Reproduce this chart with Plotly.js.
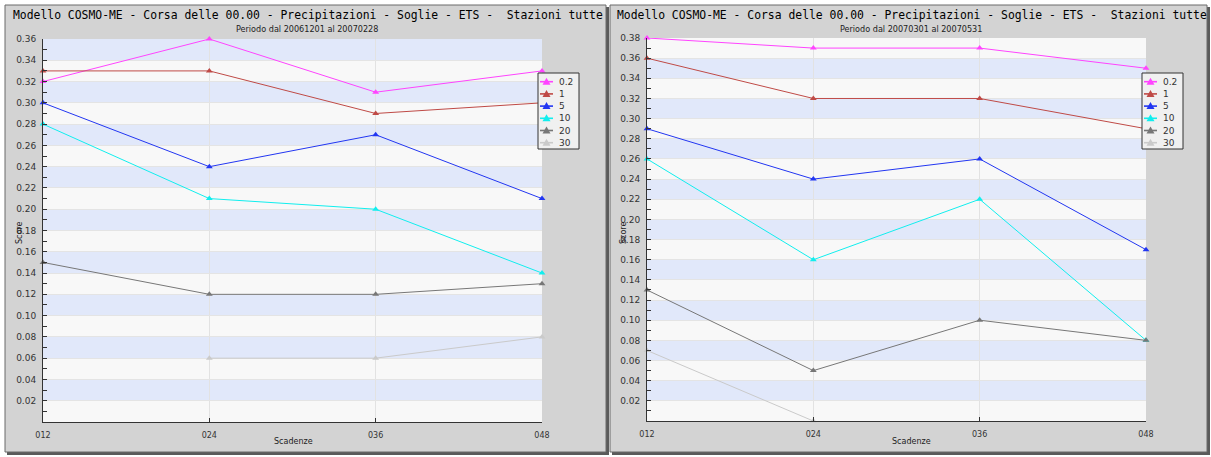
<!DOCTYPE html>
<html>
<head>
<meta charset="utf-8">
<script src="https://cdn.plot.ly/plotly-3.0.1.min.js"></script>
<style>html,body{margin:0;padding:0;background:#fff;}#chart{width:1211px;height:457px;}</style>
</head>
<body>
<div id="chart"></div>
<script>
// ---- data ----
const categories = ['012', '024', '036', '048'];
const thresholds = ['0.2', '1', '5', '10', '20', '30'];
const titleText = 'Modello COSMO-ME - Corsa delle 00.00 - Precipitazioni - Soglie - ETS -  Stazioni tutte';
const leftPeriod = 'Periodo dal 20061201 al 20070228';
const rightPeriod = 'Periodo dal 20070301 al 20070531';

// left panel (winter)
const left_02 = [0.32, 0.36, 0.31, 0.33];
const left_1  = [0.33, 0.33, 0.29, 0.30];
const left_5  = [0.30, 0.24, 0.27, 0.21];
const left_10 = [0.28, 0.21, 0.20, 0.14];
const left_20 = [0.15, 0.12, 0.12, 0.13];
const left_30 = [null, 0.06, 0.06, 0.08];

// right panel (spring)
const right_02 = [0.38, 0.37, 0.37, 0.35];
const right_1  = [0.36, 0.32, 0.32, 0.29];
const right_5  = [0.29, 0.24, 0.26, 0.17];
const right_10 = [0.26, 0.16, 0.22, 0.08];
const right_20 = [0.13, 0.05, 0.10, 0.08];
const right_30 = [0.07, 0.00, null, null];

const leftMax = 0.36, rightMax = 0.38;

// ---- styles ----
const seriesColors = ['#ff44ff', '#bf4a46', '#2236f2', '#11eeee', '#777777', '#cacaca'];
const W = 1211, H = 457;
const px = x => x / W;
const py = y => 1 - y / H;

const leftSeries = [left_02, left_1, left_5, left_10, left_20, left_30];
const rightSeries = [right_02, right_1, right_5, right_10, right_20, right_30];

const traces = [];
function addTraces(series, xa, ya) {
  series.forEach((vals, i) => {
    traces.push({
      type: 'scatter', mode: 'lines+markers',
      x: categories, y: vals, xaxis: xa, yaxis: ya,
      name: thresholds[i], showlegend: false,
      line: {color: seriesColors[i], width: 1},
      marker: {symbol: 'triangle-up', size: 6, color: seriesColors[i]},
      cliponaxis: false, connectgaps: false, hoverinfo: 'x+y+name'
    });
  });
}
addTraces(leftSeries, 'x', 'y');
addTraces(rightSeries, 'x2', 'y2');

function yTicks(max) {
  const vals = [], text = [], minor = [];
  for (let k = 1; k * 0.02 <= max + 1e-9; k++) { vals.push(+(k * 0.02).toFixed(2)); text.push((k * 0.02).toFixed(2)); }
  for (let k = 0; k * 0.02 + 0.01 < max; k++) minor.push(+(k * 0.02 + 0.01).toFixed(2));
  return {vals, text, minor};
}

const shapes = [];
const annotations = [];
// panels: shadow + face
function panel(x0, x1, y0, y1) {
  shapes.push({type: 'rect', xref: 'paper', yref: 'paper', layer: 'below',
    x0: px(x0 + 2), x1: px(x1 + 3), y0: py(y1 + 3), y1: py(y0 + 2), fillcolor: '#5a5a5a', line: {width: 0}});
  shapes.push({type: 'rect', xref: 'paper', yref: 'paper', layer: 'below',
    x0: px(x0), x1: px(x1), y0: py(y1), y1: py(y0), fillcolor: '#d3d3d3', line: {color: '#6a6a6a', width: 1}});
}
panel(5, 606, 5, 452);
panel(610, 1207, 5, 452);

// plot area background + alternating stripes
function stripes(xr, yr, max) {
  shapes.push({type: 'rect', xref: xr + ' domain', yref: yr + ' domain', layer: 'below',
    x0: 0, x1: 1, y0: 0, y1: 1, fillcolor: '#f8f8f8', line: {width: 0}});
  for (let k = 1; k * 0.02 < max - 1e-9; k += 2) {
    shapes.push({type: 'rect', xref: xr + ' domain', yref: yr, layer: 'below',
      x0: 0, x1: 1, y0: k * 0.02, y1: (k + 1) * 0.02, fillcolor: '#e1e8fa', line: {width: 0}});
  }
}
stripes('x', 'y', leftMax);
stripes('x2', 'y2', rightMax);

// legend boxes: drawn above the plot on small invisible axes (x3/y3, x4/y4) in pixel units
const LEG_W = 41, LEG_H = 76, LEG_PAD = 1;
const legRow0 = 8.7, legStep = 12.2;
function addLegend(xr, yr) {
  const a = LEG_PAD, bx = LEG_PAD + LEG_W, by = LEG_PAD + LEG_H;
  shapes.push({type: 'rect', xref: xr, yref: yr, layer: 'above', x0: a, x1: bx, y0: a, y1: by,
    fillcolor: '#f0f0f0', line: {color: '#333', width: 1}});
  thresholds.forEach((name, i) => {
    const r = LEG_PAD + legRow0 + legStep * i;
    const c = a + 8.5;
    shapes.push({type: 'line', xref: xr, yref: yr, layer: 'above', x0: a + 2, x1: a + 15, y0: r, y1: r,
      line: {color: seriesColors[i], width: 1.6}});
    shapes.push({type: 'path', xref: xr, yref: yr, layer: 'above',
      path: `M ${c - 4} ${r + 3} L ${c + 4} ${r + 3} L ${c} ${r - 4} Z`,
      fillcolor: seriesColors[i], line: {width: 0}});
    annotations.push({text: name, xref: xr, yref: yr, x: a + 19, y: r, xanchor: 'left', yanchor: 'middle',
      showarrow: false, font: {family: 'DejaVu Sans', size: 9, color: '#333'}});
  });
}
addLegend('x3', 'y3');
addLegend('x4', 'y4');

function xAxis(d0, d1, anchor) {
  return {domain: [px(d0), px(d1)], anchor: anchor, type: 'category', range: [0, 3],
    showgrid: true, gridcolor: '#e2e2e2', gridwidth: 1,
    showline: true, linecolor: '#333', linewidth: 1,
    ticks: 'inside', ticklen: 4, tickcolor: '#333', ticklabelstandoff: 5,
    tickfont: {family: 'DejaVu Sans', size: 8, color: '#333'}, fixedrange: true};
}
function yAxis(t0, t1, max, anchor) {
  const t = yTicks(max);
  return {domain: [py(t1), py(t0)], anchor: anchor, range: [0, max],
    tickmode: 'array', tickvals: t.vals, ticktext: t.text,
    showgrid: true, gridcolor: '#e4e4e4', gridwidth: 1, zeroline: false,
    showline: true, linecolor: '#333', linewidth: 1,
    ticks: 'inside', ticklen: 4, tickcolor: '#333', ticklabelstandoff: 4,
    minor: {tickmode: 'array', tickvals: t.minor, ticks: 'inside', ticklen: 4, tickcolor: '#333', showgrid: false},
    tickfont: {family: 'DejaVu Sans', size: 9, color: '#333'}, fixedrange: true};
}
function legAxisX(left, anchor) {
  const d0 = left - LEG_PAD, d1 = left + LEG_W + LEG_PAD;
  return {domain: [px(d0), px(d1)], anchor: anchor, range: [0, d1 - d0], visible: false, fixedrange: true};
}
function legAxisY(top, anchor) {
  const t0 = top - LEG_PAD, t1 = top + LEG_H + LEG_PAD;
  return {domain: [py(t1), py(t0)], anchor: anchor, range: [t1 - t0, 0], visible: false, fixedrange: true};
}

const titleFont = {family: 'DejaVu Sans Mono', size: 11.4, color: '#000'};
const subFont = {family: 'DejaVu Sans Condensed', size: 9, color: '#222'};
const smallFont = {family: 'DejaVu Sans', size: 8, color: '#222'};

function ann(text, x, y, font, extra) {
  return Object.assign({text: text, xref: 'paper', yref: 'paper', x: px(x), y: py(y),
    xanchor: 'center', yanchor: 'middle', showarrow: false, font: font}, extra || {});
}

annotations.push(
  ann(titleText, 308, 15, titleFont),
  ann(leftPeriod, 307, 29, subFont),
  ann('Score', 20, 233, smallFont, {textangle: -90}),
  ann('Scadenze', 293, 441, smallFont),
  ann(titleText, 912, 15, titleFont),
  ann(rightPeriod, 911, 29, subFont),
  ann('Score', 624, 233, smallFont, {textangle: -90}),
  ann('Scadenze', 911, 441, smallFont)
);

const layout = {
  width: W, height: H, margin: {l: 0, r: 0, t: 0, b: 0},
  paper_bgcolor: '#ffffff', plot_bgcolor: 'rgba(0,0,0,0)',
  showlegend: false,
  xaxis: xAxis(43, 542, 'y'),
  yaxis: yAxis(39, 422, leftMax, 'x'),
  xaxis2: xAxis(647, 1146, 'y2'),
  yaxis2: yAxis(38, 421, rightMax, 'x2'),
  xaxis3: legAxisX(538, 'y3'),
  yaxis3: legAxisY(73, 'x3'),
  xaxis4: legAxisX(1142, 'y4'),
  yaxis4: legAxisY(73, 'x4'),
  shapes: shapes,
  annotations: annotations,
  hovermode: 'closest'
};

Plotly.newPlot('chart', traces, layout, {displayModeBar: false, responsive: false});
</script>
</body>
</html>
